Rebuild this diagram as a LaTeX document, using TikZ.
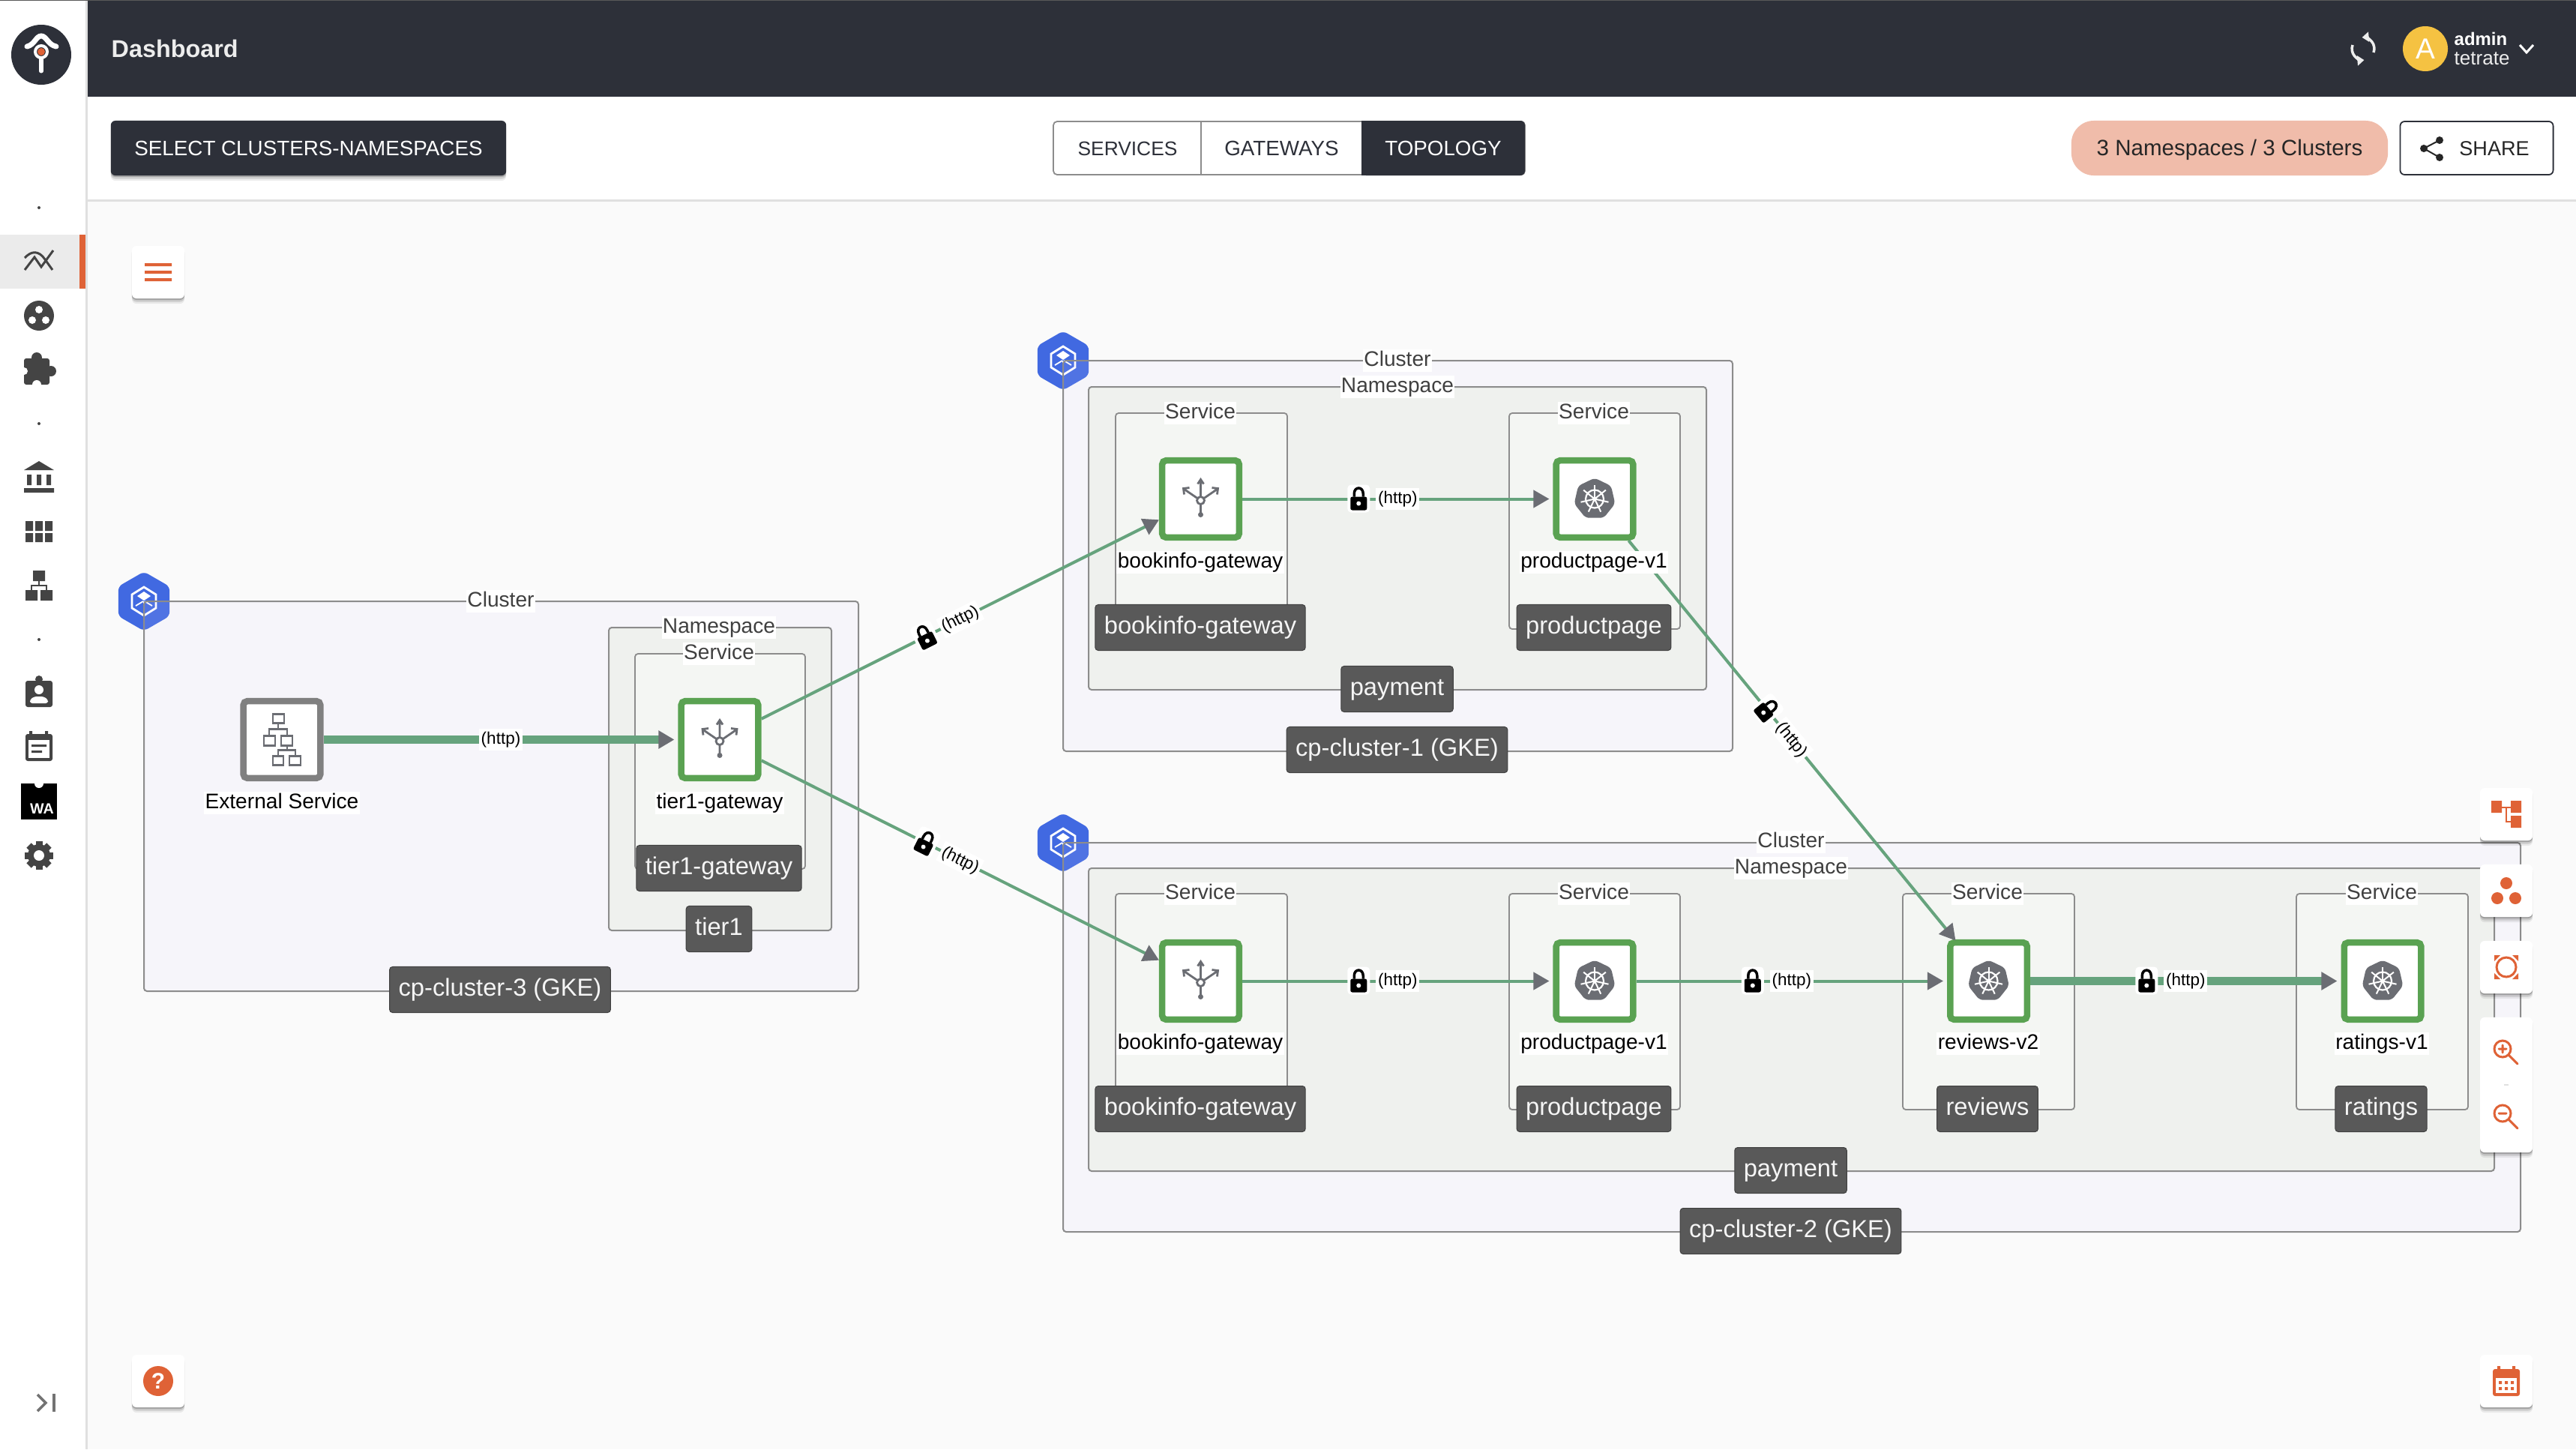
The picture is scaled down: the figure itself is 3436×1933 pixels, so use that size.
\documentclass[tikz,border=0pt]{standalone}
\usepackage{fontspec}
\setmainfont{Liberation Sans}
\usepackage{xcolor}
\usetikzlibrary{arrows.meta,shapes.geometric,shadows}

\definecolor{topbar}{HTML}{2D3039}
\definecolor{accent}{HTML}{DF6236}
\definecolor{iconpill}{HTML}{F0BCAA}
\definecolor{sideicon}{HTML}{444444}
\definecolor{greyline}{HTML}{8C8C8C}
\definecolor{pagefill}{HTML}{FAFAFA}
\definecolor{clusterfill}{HTML}{DCD2FA}
\definecolor{nsfill}{HTML}{EFF1EE}
\definecolor{svcfill}{HTML}{F4F6F3}
\definecolor{tagfill}{HTML}{595959}
\definecolor{nodegreen}{HTML}{5AA252}
\definecolor{nodegrey}{HTML}{808080}
\definecolor{flowgreen}{HTML}{66A37D}
\definecolor{tipgrey}{HTML}{6B6D73}
\definecolor{hexblue}{HTML}{4169E1}
\definecolor{avatarfill}{HTML}{F5C242}

\tikzset{
  clusterbox/.style={draw=greyline, line width=0.02cm, rounded corners=0.04cm, fill=clusterfill, fill opacity=0.1},
  nsbox/.style={draw=greyline, line width=0.02cm, rounded corners=0.04cm, fill=nsfill},
  svcbox/.style={draw=greyline, line width=0.018cm, rounded corners=0.04cm, fill=svcfill},
  grouptitle/.style={fill=white, inner sep=0.4pt, text=black!75, text height=6pt, text depth=1.7pt,
    font=\fontsize{8}{10}\selectfont},
  nodetitle/.style={fill=white, inner sep=0.4pt, text=black, text height=6pt, text depth=1.7pt,
    font=\fontsize{8}{10}\selectfont},
  grouptag/.style={fill=tagfill, draw=black!75, line width=0.01cm, rounded corners=0.04cm, text=white!96!black,
    minimum height=0.61cm, inner xsep=0.12cm, inner ysep=0pt, text height=7pt, text depth=2pt,
    font=\fontsize{9.3}{11}\selectfont},
  svcnode/.style={rectangle, fill=white, draw=nodegreen, line width=0.085cm, rounded corners=0.05cm,
    minimum width=1.025cm, minimum height=1.025cm, inner sep=0pt, outer sep=0.0425cm},
  extnode/.style={svcnode, draw=nodegrey},
  hexnode/.style={regular polygon, regular polygon sides=6, shape border rotate=30, fill=hexblue,
    minimum size=0.79cm, inner sep=0pt, rounded corners=0.06cm},
  flowthin/.style={draw=flowgreen, line width=0.04cm, shorten >=0.05cm,
    -{Triangle[length=0.21cm,width=0.23cm,color=tipgrey]}},
  flowslant/.style={flowthin, shorten >=0pt},
  flowthick/.style={flowthin, line width=0.11cm},
  httpnode/.style={midway, sloped, fill=white, inner sep=0.8pt, text=black, text height=5pt, text depth=1.5pt,
    font=\fontsize{6.4}{8}\selectfont},
  barbtn/.style={rectangle, rounded corners=0.06cm, minimum height=0.73cm, inner sep=0pt, text height=7pt, text depth=1.5pt,
    font=\fontsize{7.9}{10}\selectfont},
  softshadow/.style={
    drop shadow={shadow xshift=0pt, shadow yshift=-0.7mm, opacity=0.07, fill=black},
    drop shadow={shadow xshift=0pt, shadow yshift=-0.45mm, opacity=0.12, fill=black},
    drop shadow={shadow xshift=0pt, shadow yshift=-0.2mm, opacity=0.2, fill=black}},
  toolbtn/.style={rectangle, fill=white, rounded corners=0.06cm, minimum width=0.7cm, minimum height=0.7cm,
    inner sep=0pt, softshadow},
  tabtext/.style={inner sep=0pt, text height=7pt, text depth=1.5pt, font=\fontsize{7.9}{10}\selectfont},
  sidefill/.style={fill=sideicon, draw=none},
  tooldraw/.style={draw=accent, line width=0.03cm, line cap=round},
  lockicon/.pic={
    \fill[white, rounded corners=0.05cm] (-67,-19) rectangle (-37,18);
    \fill[black, rounded corners=0.025cm] (-63,-3) rectangle (-41,15);
    \draw[black, line width=0.035cm, arrows=-, shorten >=0pt] (-58,-3) -- (-58,-7) .. controls (-58,-17) and (-46,-17) .. (-46,-7) -- (-46,-3);
    \fill[white] (-52,6) circle[radius=3];
  },
  gatewayicon/.pic={
    \draw[tipgrey, line width=0.028cm, arrows=-, shorten >=0pt]
      (0,-25) -- (0,-3) (-22,-13) -- (-3,0) (22,-13) -- (3,0) (0,7) -- (0,21)
      (-4,-20) -- (0,-26) -- (4,-20) (-22,-6) -- (-23,-14) -- (-15,-15) (22,-6) -- (23,-14) -- (15,-15);
    \draw[tipgrey, line width=0.028cm, arrows=-, shorten >=0pt] (0,2) circle[radius=5];
    \fill[tipgrey] (0,21) circle[radius=3.5];
  },
  kubeicon/.pic={
    \fill[tipgrey, rounded corners=0.05cm] (-90:28) \foreach \a in {1,...,6} {-- (-90+\a*51.43:28)} -- cycle;
    \draw[white, line width=0.022cm, arrows=-, shorten >=0pt] (0,0) circle[radius=12];
    \foreach \a in {0,...,6}
      \draw[white, line width=0.02cm, arrows=-, shorten >=0pt] (0,0) -- (-90+\a*51.43:19);
    \fill[white] (0,0) circle[radius=3];
  },
  exticon/.pic={
    \draw[tipgrey, line width=0.028cm, arrows=-, shorten >=0pt]
      (-12,-34) rectangle (3,-22) (-24,-5) rectangle (-9,8) (-1,-5) rectangle (14,8)
      (-12,22) rectangle (2,34) (10,22) rectangle (25,34)
      (-5,-22) -- (-5,-14) (-17,-5) -- (-17,-14) -- (7,-14) -- (7,-5)
      (7,8) -- (7,14) (-5,22) -- (-5,14) -- (18,14) -- (18,22);
  },
  cubeicon/.pic={
    \draw[white, line width=0.028cm, arrows=-] (0,-19) -- (16,-9) -- (16,9) -- (0,19) -- (-16,9) -- (-16,-9) -- cycle;
    \fill[white] (0,-13) -- (9,-7) -- (0,-1) -- (-9,-7) -- cycle;
    \draw[white, line width=0.018cm] (0,0) -- (0,10) (-1,0) -- (-11,6) (1,0) -- (11,6);
  }
}

\begin{document}
\begin{tikzpicture}[x=0.01cm, y=-0.01cm]
  \useasboundingbox (0,0) rectangle (3436,1933);
  % page
  \fill[white] (0,0) rectangle (3436,1933);
  \fill[pagefill] (116,268) rectangle (3436,1933);
  \fill[topbar] (116,0) rectangle (3436,129);
  \fill[black!12] (114,0) rectangle (117,1933);
  \fill[black!12] (116,266) rectangle (3436,269);
  \fill[black!65] (0,0) rectangle (3436,1.5);

  % header
  \fill[topbar] (55,73) circle[radius=40];
  \draw[white, line width=0.07cm, line cap=round] (36,62) .. controls (46,60) and (48,48) .. (55,48) .. controls (62,48) and (64,60) .. (75,62);
  \draw[white, line width=0.04cm] (55,69) circle[radius=8];
  \draw[white, line width=0.05cm, line cap=round] (55,78) -- (55,95);
  \fill[accent] (55,69) circle[radius=5];
  \node[text=white!93!black, font=\bfseries\fontsize{9.2}{11}\selectfont, inner sep=0pt, anchor=west] (dashtitle) at (148,65) {Dashboard};
  \draw[white!93!black, line width=0.035cm, -{Triangle[length=0.09cm,width=0.13cm]}] (3166,70) arc[start angle=20, end angle=-95, radius=15];
  \draw[white!93!black, line width=0.035cm, -{Triangle[length=0.09cm,width=0.13cm]}] (3138,60) arc[start angle=200, end angle=85, radius=15];
  \fill[avatarfill] (3235,65) circle[radius=30];
  \node[text=white, inner sep=0pt, font=\fontsize{11}{13}\selectfont] (avatar) at (3235,65) {A};
  \node[text=white, anchor=west, inner sep=0pt, font=\bfseries\fontsize{6.8}{8}\selectfont] (username) at (3273,52) {admin};
  \node[text=white!93!black, anchor=west, inner sep=0pt, font=\fontsize{7.4}{9}\selectfont] (userorg) at (3273,78) {tetrate};
  \draw[white, line width=0.03cm] (3361,60) -- (3370,70) -- (3379,60);

  % second bar
  \node[barbtn, fill=topbar, text=white, minimum width=5.27cm, softshadow] (selectbtn) at (411.5,197.5) {SELECT CLUSTERS-NAMESPACES};
  \draw[black!45, line width=0.018cm, rounded corners=0.05cm, fill=white] (1405,162) rectangle (2034,233);
  \fill[topbar, rounded corners=0.06cm] (1816,161) rectangle (2034,234);
  \fill[topbar] (1816,161) rectangle (1840,234);
  \draw[black!45, line width=0.018cm] (1602,162) -- (1602,233);
  \node[tabtext, text=topbar, font=\fontsize{7.5}{10}\selectfont] (tabsvc) at (1504,197.5) {SERVICES};
  \node[tabtext, text=topbar] (tabgw) at (1709.5,197.5) {GATEWAYS};
  \node[tabtext, text=white] (tabtopo) at (1925,197.5) {TOPOLOGY};
  \node[barbtn, fill=iconpill, rounded corners=0.3cm, minimum width=4.22cm, text=black!85, font=\fontsize{8.4}{10}\selectfont] (scopepill) at (2974,197.5) {3 Namespaces / 3 Clusters};
  \node[barbtn, draw=topbar, line width=0.018cm, fill=white, minimum width=2.04cm, minimum height=0.71cm] (sharebtn) at (3303.5,197.5) {};
  \node[tabtext, text=black!85, font=\fontsize{7.7}{10}\selectfont] (sharetext) at (3327,197.5) {SHARE};
  \fill[black!85] (3254,187) circle[radius=5] (3233,198) circle[radius=5] (3254,210) circle[radius=5];
  \draw[black!85, line width=0.02cm] (3254,187) -- (3233,198) -- (3254,210);

  % side menu
  \fill[black!8] (0,313) rectangle (106,385);
  \fill[accent] (106,313) rectangle (114,385);
  \fill[sideicon] (52,277) circle[radius=2] (52,565) circle[radius=2] (52,853) circle[radius=2];
  \draw[sideicon, line width=0.03cm] (33,360) -- (46,343) -- (55,356) -- (71,334) (33,344) .. controls (42,334) and (52,334) .. (60,346) -- (70,360);
  \fill[sideicon] (52,421) circle[radius=20];
  \fill[white] (52,413) circle[radius=5] (43,427) circle[radius=5] (61,427) circle[radius=5];
  \fill[sidefill, rounded corners=0.03cm] (32,478) rectangle (66,513);
  \fill[sideicon] (49,477) circle[radius=7] (68,495) circle[radius=7];
  \fill[white] (32,495) circle[radius=5] (49,513) circle[radius=6];
  \fill[sidefill] (32,627) -- (52,615) -- (72,627) -- cycle (32,651) rectangle (72,657);
  \fill[sidefill] (36,633) rectangle (42,647) (49,633) rectangle (55,647) (62,633) rectangle (68,647);
  \foreach \cx in {34,47,60} {
    \fill[sidefill] (\cx,695) rectangle +(10,13) (\cx,711) rectangle +(10,12);
  }
  \fill[sidefill] (44,761) rectangle (60,775) (34,787) rectangle (50,801) (54,787) rectangle (70,801);
  \draw[sideicon, line width=0.025cm] (52,775) -- (52,781) (42,787) -- (42,781) -- (62,781) -- (62,787);
  \fill[sidefill, rounded corners=0.03cm] (34,908) rectangle (70,943);
  \fill[sideicon] (52,906) circle[radius=5];
  \fill[white] (52,920) circle[radius=6];
  \fill[white, rounded corners=0.03cm] (40,938) -- (40,933) -- (46,929) -- (58,929) -- (64,933) -- (64,938) -- cycle;
  \fill[sidefill, rounded corners=0.03cm] (34,979) rectangle (70,1015);
  \fill[sidefill] (39,975) rectangle (43,982) (60,975) rectangle (64,982);
  \fill[white] (38,987) rectangle (66,1011);
  \fill[sidefill] (42,993) rectangle (62,996) (42,1001) rectangle (56,1004);
  \fill[black] (28,1045) rectangle (76,1093);
  \fill[white] (52,1045) circle[radius=6];
  \node[text=white, inner sep=0pt, font=\bfseries\fontsize{5.6}{7}\selectfont] (wabadge) at (56,1079) {WA};
  \foreach \a in {0,45,...,315} {
    \fill[sidefill, rotate around={\a:(52,1141)}] (47.5,1122) rectangle (56.5,1130);
  }
  \fill[sideicon] (52,1141) circle[radius=15];
  \fill[white] (52,1141) circle[radius=7];
  \draw[black!55, line width=0.035cm] (50,1860) -- (61,1871) -- (50,1882);
  \draw[black!55, line width=0.035cm] (72,1859) -- (72,1883);

  % cluster 3
  \node[hexnode] (hexthree) at (192,802) {};
  \pic at (192,802) {cubeicon};
  \path[clusterbox] (192,802) rectangle (1145,1322);
  \path[nsbox] (812,837) rectangle (1109,1241);
  \path[svcbox] (847,872) rectangle (1074,1159);
  \node[grouptitle] (titlethree) at (668,802) {Cluster};
  \node[grouptitle] (nsthree) at (959,837) {Namespace};
  \node[grouptitle] (svcthree) at (959,872) {Service};

  % cluster 1
  \node[hexnode] (hexone) at (1418,481) {};
  \pic at (1418,481) {cubeicon};
  \path[clusterbox] (1418,481) rectangle (2311,1002);
  \path[nsbox] (1452,516) rectangle (2276,920);
  \path[svcbox] (1488,551) rectangle (1717,839);
  \path[svcbox] (2013,551) rectangle (2241,839);
  \node[grouptitle] (titleone) at (1864,481) {Cluster};
  \node[grouptitle] (nsone) at (1864,516) {Namespace};
  \node[grouptitle] (svconea) at (1601,551) {Service};
  \node[grouptitle] (svconeb) at (2126,551) {Service};

  % cluster 2
  \node[hexnode] (hextwo) at (1418,1124) {};
  \pic at (1418,1124) {cubeicon};
  \path[clusterbox] (1418,1124) rectangle (3362,1643);
  \path[nsbox] (1452,1158) rectangle (3327,1562);
  \path[svcbox] (1488,1192) rectangle (1717,1480);
  \path[svcbox] (2013,1192) rectangle (2241,1480);
  \path[svcbox] (2538,1192) rectangle (2767,1480);
  \path[svcbox] (3063,1192) rectangle (3292,1480);
  \node[grouptitle] (titletwo) at (2389,1123) {Cluster};
  \node[grouptitle] (nstwo) at (2389,1158) {Namespace};
  \node[grouptitle] (svctwoa) at (1601,1192) {Service};
  \node[grouptitle] (svctwob) at (2126,1192) {Service};
  \node[grouptitle] (svctwoc) at (2651,1192) {Service};
  \node[grouptitle] (svctwod) at (3177,1192) {Service};

  % workload nodes
  \node[extnode] (extsvc) at (376,986.5) {};
  \node[svcnode] (tieronegw) at (960,986.5) {};
  \node[svcnode] (bookinfoa) at (1601.5,665.5) {};
  \node[svcnode] (productpagea) at (2127,665.5) {};
  \node[svcnode] (bookinfob) at (1601.5,1308.5) {};
  \node[svcnode] (productpageb) at (2127,1308.5) {};
  \node[svcnode] (reviewstwo) at (2652.5,1308.5) {};
  \node[svcnode] (ratingsone) at (3178,1308.5) {};
  \pic at (extsvc) {exticon};
  \pic at (tieronegw) {gatewayicon};
  \pic at (bookinfoa) {gatewayicon};
  \pic at (bookinfob) {gatewayicon};
  \pic at (productpagea) {kubeicon};
  \pic at (productpageb) {kubeicon};
  \pic at (reviewstwo) {kubeicon};
  \pic at (ratingsone) {kubeicon};

  % traffic
  \draw[flowthick] (extsvc) -- node[httpnode] (httpext) {(http)} (tieronegw);
  \draw[flowslant] (tieronegw) -- node[httpnode] (httpup) {(http)} pic[midway, sloped] {lockicon} (bookinfoa);
  \draw[flowslant] (tieronegw) -- node[httpnode] (httpdown) {(http)} pic[midway, sloped] {lockicon} (bookinfob);
  \draw[flowthin] (bookinfoa) -- node[httpnode] (httpa) {(http)} pic[midway, sloped] {lockicon} (productpagea);
  \draw[flowslant, shorten >=-0.02cm] (productpagea) -- node[httpnode] (httpcross) {(http)} pic[midway, sloped] {lockicon} (reviewstwo);
  \draw[flowthin] (bookinfob) -- node[httpnode] (httpb) {(http)} pic[midway, sloped] {lockicon} (productpageb);
  \draw[flowthin] (productpageb) -- node[httpnode] (httpc) {(http)} pic[midway, sloped] {lockicon} (reviewstwo);
  \draw[flowthick] (reviewstwo) -- node[httpnode] (httpd) {(http)} pic[midway, sloped] {lockicon} (ratingsone);

  % node titles
  \node[nodetitle] (nameext) at (376,1071) {External Service};
  \node[nodetitle] (nametier) at (960,1071) {tier1-gateway};
  \node[nodetitle] (namebia) at (1601,750) {bookinfo-gateway};
  \node[nodetitle] (nameppa) at (2126,750) {productpage-v1};
  \node[nodetitle] (namebib) at (1601,1392) {bookinfo-gateway};
  \node[nodetitle] (nameppb) at (2126,1392) {productpage-v1};
  \node[nodetitle] (namerev) at (2652,1392) {reviews-v2};
  \node[nodetitle] (namerat) at (3177,1392) {ratings-v1};

  % tags
  \node[grouptag] (tagtiergw) at (959,1158) {tier1-gateway};
  \node[grouptag] (tagtier) at (959,1239) {tier1};
  \node[grouptag] (tagthree) at (667,1320) {cp-cluster-3 (GKE)};
  \node[grouptag] (tagbia) at (1601,837) {bookinfo-gateway};
  \node[grouptag] (tagppa) at (2126,837) {productpage};
  \node[grouptag] (tagpaya) at (1863.5,919) {payment};
  \node[grouptag] (tagone) at (1863.5,1000) {cp-cluster-1 (GKE)};
  \node[grouptag] (tagbib) at (1601,1479) {bookinfo-gateway};
  \node[grouptag] (tagppb) at (2126,1479) {productpage};
  \node[grouptag] (tagrev) at (2651,1479) {reviews};
  \node[grouptag] (tagrat) at (3176,1479) {ratings};
  \node[grouptag] (tagpayb) at (2388.5,1561) {payment};
  \node[grouptag] (tagtwo) at (2388.5,1642) {cp-cluster-2 (GKE)};

  % floating tools
  \node[toolbtn] (menubtn) at (211,363) {};
  \fill[accent] (193,351) rectangle (229,355) (193,361) rectangle (229,365) (193,371) rectangle (229,375);
  \node[toolbtn] (helpbtn) at (211,1842) {};
  \fill[accent] (211,1842) circle[radius=20];
  \node[text=white, inner sep=0pt, font=\bfseries\fontsize{8.5}{10}\selectfont] (helpmark) at (211,1842) {?};
  \node[toolbtn] (treebtn) at (3343,1086) {};
  \fill[accent] (3323,1068) rectangle (3337,1084) (3349,1068) rectangle (3363,1084) (3349,1088) rectangle (3363,1104);
  \draw[accent, line width=0.025cm] (3337,1077) -- (3349,1077) (3343,1077) -- (3343,1096) -- (3349,1096);
  \node[toolbtn] (dotsbtn) at (3343,1188) {};
  \fill[accent] (3343,1178) circle[radius=8] (3331,1198) circle[radius=8] (3355,1198) circle[radius=8];
  \node[toolbtn] (fitbtn) at (3343,1290) {};
  \draw[tooldraw] (3343,1290) circle[radius=13];
  \fill[accent] (3327,1274) -- (3335,1274) -- (3327,1282) -- cycle (3359,1274) -- (3351,1274) -- (3359,1282) -- cycle
    (3327,1306) -- (3335,1306) -- (3327,1298) -- cycle (3359,1306) -- (3351,1306) -- (3359,1298) -- cycle;
  \node[toolbtn, minimum height=1.8cm] (zoombtn) at (3343,1447) {};
  \draw[tooldraw] (3338,1399) circle[radius=11] (3346,1407) -- (3358,1419) (3333,1399) -- (3343,1399) (3338,1394) -- (3338,1404);
  \draw[tooldraw] (3338,1485) circle[radius=11] (3346,1493) -- (3358,1505) (3333,1485) -- (3343,1485);
  \fill[black!12] (3340,1446) rectangle (3346,1448);
  \node[toolbtn] (calbtn) at (3343,1842) {};
  \fill[accent, rounded corners=0.03cm] (3325,1826) rectangle (3361,1862);
  \fill[accent] (3331,1822) rectangle (3335,1830) (3351,1822) rectangle (3355,1830);
  \fill[white] (3329,1838) rectangle (3357,1858);
  \foreach \cx in {3335,3343,3351} {
    \fill[accent] (\cx-2,1842) rectangle +(4,4) (\cx-2,1850) rectangle +(4,4);
  }
\end{tikzpicture}
\end{document}
